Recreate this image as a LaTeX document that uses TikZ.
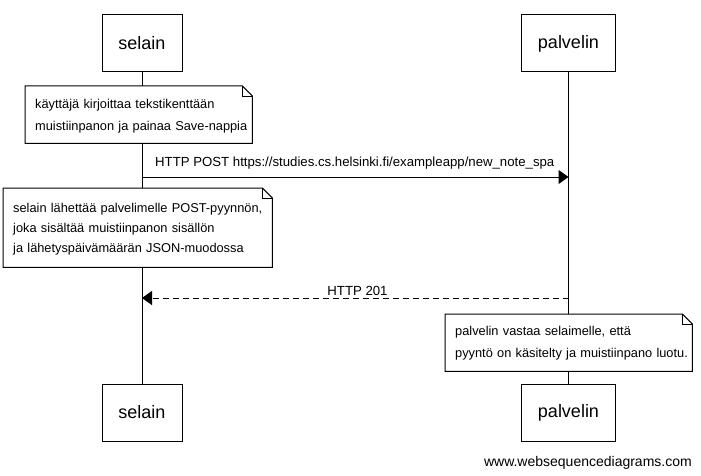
\documentclass[tikz,border=0pt]{standalone}
\usepackage{fontspec}
\setmainfont{Liberation Sans}
\usetikzlibrary{arrows.meta}
\tikzset{
  actor/.style={draw, line width=1pt, minimum width=80pt, minimum height=57pt,
    inner sep=0pt, font=\fontsize{18}{20}\selectfont},
  actorwide/.style={actor, minimum width=94pt},
  lifeline/.style={line width=1pt},
  noteframe/.style={anchor=north west, inner sep=0pt},
  notetext/.style={anchor=west, inner sep=0pt, text width=260pt,
    align=left, font=\fontsize{12.8}{22}\selectfont},
  notefold/.style={draw, line width=1pt, fill=white},
  msg/.style={line width=1pt, -{Triangle[length=10pt,width=14pt]}},
  reply/.style={msg, dash pattern=on 6pt off 4pt},
  msglabel/.style={font=\fontsize{13.2}{15}\selectfont, inner sep=0pt},
}
\newcommand{\notepath}[1]{%
  \draw[notefold] (#1.north west) -- ([xshift=-10pt]#1.north east)
    -- ([yshift=-10pt]#1.north east) -- (#1.south east) -- (#1.south west) -- cycle;
  \draw[line width=0.6pt] ([xshift=-10pt]#1.north east) -- ([xshift=-10pt,yshift=-10pt]#1.north east)
    -- ([yshift=-10pt]#1.north east);
}
\begin{document}
\begin{tikzpicture}[x=1pt,y=-1pt]
  \useasboundingbox[fill=white] (0,0) rectangle (701,476);

  % participants, top and bottom
  \node[actor] (selTop) at (142,43.5) {selain};
  \node[actorwide] (palTop) at (568.5,43.5) {palvelin};
  \node[actor] (selBot) at (142,412.5) {selain};
  \node[actorwide] (palBot) at (568.5,412.5) {palvelin};

  % lifelines
  \draw[lifeline] (selTop.south) -- (selBot.north);
  \draw[lifeline] (palTop.south) -- (palBot.north);

  % note: user types into the field
  \node[noteframe, minimum width=227pt, minimum height=57pt] (n1) at (25,86) {};
  \notepath{n1}
  \node[notetext] (n1t) at ([xshift=10pt,yshift=-1pt]n1.west)
    {käyttäjä kirjoittaa tekstikenttään\\muistiinpanon ja painaa Save-nappia};

  % POST request
  \coordinate (postL) at (142,177);
  \coordinate (postR) at (568.5,177);
  \draw[msg] (postL) -- (postR);
  \node[msglabel, anchor=base west] (postLbl) at (155,166.5)
    {HTTP POST https://studies.cs.helsinki.fi/exampleapp/new\_note\_spa};

  % note: what the browser sends
  \node[noteframe, minimum width=269pt, minimum height=79pt] (n2) at (3,188) {};
  \notepath{n2}
  \node[notetext, font=\fontsize{12.8}{20}\selectfont] (n2t) at ([xshift=10pt,yshift=-1pt]n2.west)
    {selain lähettää palvelimelle POST-pyynnön,\\joka sisältää muistiinpanon sisällön\\ja lähetyspäivämäärän JSON-muodossa};

  % response
  \coordinate (respR) at (568.5,298);
  \coordinate (respL) at (142,298);
  \draw[reply] (respR) -- (respL);
  \node[msglabel, anchor=base] (respLbl) at (357.5,295.5) {HTTP 201};

  % note: server answer
  \node[noteframe, minimum width=247pt, minimum height=57pt] (n3) at (445,314) {};
  \notepath{n3}
  \node[notetext] (n3t) at ([xshift=10pt,yshift=0pt]n3.west)
    {palvelin vastaa selaimelle, että\\pyyntö on käsitelty ja muistiinpano luotu.};

  % footer
  \node[msglabel, anchor=base east, font=\fontsize{14}{16}\selectfont] (credit) at (692,466)
    {www.websequencediagrams.com};
\end{tikzpicture}
\end{document}
